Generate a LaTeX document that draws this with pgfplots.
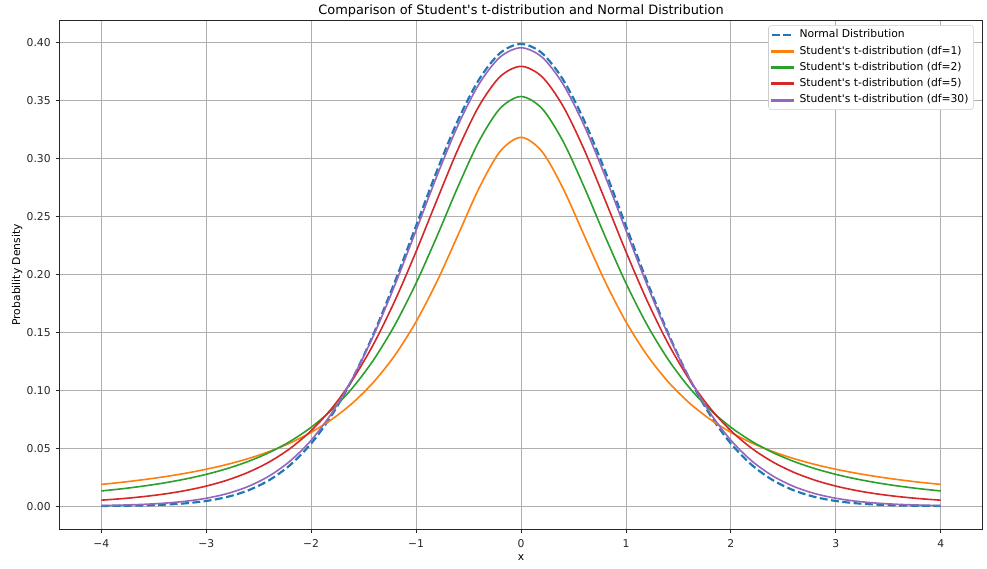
\documentclass[border=0pt]{standalone}
\usepackage{pgfplots}
\pgfplotsset{compat=1.18}
\usepackage{fontspec}
\setmainfont{DejaVu Sans}
\usetikzlibrary{calc}
\definecolor{c0}{HTML}{1F77B4}
\definecolor{c1}{HTML}{FF7F0E}
\definecolor{c2}{HTML}{2CA02C}
\definecolor{c3}{HTML}{D62728}
\definecolor{c4}{HTML}{9467BD}
\definecolor{gridc}{HTML}{B0B0B0}
\pgfplotsset{
  rectlegend/.style={legend image code/.code={\fill[##1, sharp corners] (0pt,-0.5pt) rectangle (15.8pt,0.5pt);}},
  dashlegend/.style={legend image code/.code={\draw[##1, sharp corners] (0pt,0pt) -- (15.8pt,0pt);}},
}
\begin{document}
\begin{tikzpicture}
\begin{axis}[
  name=ax,
  scale only axis,
  width=664.8pt, height=366pt,
  xmin=-4.4, xmax=4.4, ymin=-0.0198, ymax=0.419,
  xtick={-4,-3,-2,-1,0,1,2,3,4},
  xticklabels={−4,−3,−2,−1,0,1,2,3,4},
  ytick={0,0.05,0.10,0.15,0.20,0.25,0.30,0.35,0.40},
  yticklabel style={/pgf/number format/.cd,fixed,fixed zerofill,precision=2,assume math mode=true},
  scaled y ticks=false,
  tick label style={font=\fontsize{7.75}{9}\selectfont, color=black!85},
  xticklabel style={yshift=-1.2pt},
  xlabel={x}, ylabel={Probability Density},
  every axis x label/.style={at={(0.5,0)}, yshift=-22.3pt, anchor=base, font=\fontsize{7.75}{9}\selectfont},
  every axis y label/.style={at={(0,0.5)}, xshift=-28.3pt, rotate=90, anchor=base, font=\fontsize{7.75}{9}\selectfont},
  title={Comparison of Student\textquotesingle s t-distribution and Normal Distribution},
  every axis title/.style={at={(0.5,1)}, yshift=4.8pt, anchor=base, font=\fontsize{9.3}{11}\selectfont},
  grid=major,
  major grid style={gridc, line width=0.62pt},
  axis line style={line width=0.62pt, black!85},
  tick style={line width=0.62pt, black!85},
  tick align=outside, major tick length=2.7pt,
  xtick pos=bottom, ytick pos=left,
  legend cell align=left,
  legend style={font=\fontsize{7.75}{9}\selectfont, draw=black!20, fill=white, rounded corners=2pt, inner xsep=1.5pt, inner ysep=1pt, at={(1,1)}, xshift=-6.5pt, yshift=-3.3pt, anchor=north east, column sep=1.5pt, nodes={inner ysep=1.95pt, text height=5.9pt, text depth=1.9pt}},
]
\addplot[c0, line width=1.55pt, dash pattern=on 5.7pt off 2.5pt, smooth, dashlegend] coordinates {
(-4.0,0.000134)(-3.8,0.000292)(-3.6,0.000612)(-3.4,0.001232)(-3.2,0.002384)(-3.0,0.004432)
(-2.8,0.007915)(-2.6,0.013583)(-2.4,0.022395)(-2.2,0.035475)(-2.0,0.053991)(-1.8,0.078950)
(-1.6,0.110921)(-1.4,0.149727)(-1.2,0.194186)(-1.0,0.241971)(-0.8,0.289692)(-0.6,0.333225)
(-0.4,0.368270)(-0.2,0.391043)(0.0,0.398942)(0.2,0.391043)(0.4,0.368270)(0.6,0.333225)
(0.8,0.289692)(1.0,0.241971)(1.2,0.194186)(1.4,0.149727)(1.6,0.110921)(1.8,0.078950)
(2.0,0.053991)(2.2,0.035475)(2.4,0.022395)(2.6,0.013583)(2.8,0.007915)(3.0,0.004432)
(3.2,0.002384)(3.4,0.001232)(3.6,0.000612)(3.8,0.000292)(4.0,0.000134)};
\addlegendentry{Normal Distribution}
\addplot[c1, line width=1.16pt, smooth, rectlegend] coordinates {
(-4.0,0.018724)(-3.8,0.020616)(-3.6,0.022802)(-3.4,0.025343)(-3.2,0.028319)(-3.0,0.031831)
(-2.8,0.036008)(-2.6,0.041019)(-2.4,0.047087)(-2.2,0.054505)(-2.0,0.063662)(-1.8,0.075073)
(-1.6,0.089413)(-1.4,0.107537)(-1.2,0.130455)(-1.0,0.159155)(-0.8,0.194091)(-0.6,0.234051)
(-0.4,0.274405)(-0.2,0.306067)(0.0,0.318310)(0.2,0.306067)(0.4,0.274405)(0.6,0.234051)
(0.8,0.194091)(1.0,0.159155)(1.2,0.130455)(1.4,0.107537)(1.6,0.089413)(1.8,0.075073)
(2.0,0.063662)(2.2,0.054505)(2.4,0.047087)(2.6,0.041019)(2.8,0.036008)(3.0,0.031831)
(3.2,0.028319)(3.4,0.025343)(3.6,0.022802)(3.8,0.020616)(4.0,0.018724)};
\addlegendentry{Student\textquotesingle s t-distribution (df=1)}
\addplot[c2, line width=1.16pt, smooth, rectlegend] coordinates {
(-4.0,0.013095)(-3.8,0.015001)(-3.6,0.017281)(-3.4,0.020027)(-3.2,0.023352)(-3.0,0.027410)
(-2.8,0.032398)(-2.6,0.038569)(-2.4,0.046262)(-2.2,0.055899)(-2.0,0.068041)(-1.8,0.083364)
(-1.6,0.102695)(-1.4,0.126897)(-1.2,0.156735)(-1.0,0.192450)(-0.8,0.233127)(-0.6,0.275821)
(-0.4,0.315007)(-0.2,0.343206)(0.0,0.353553)(0.2,0.343206)(0.4,0.315007)(0.6,0.275821)
(0.8,0.233127)(1.0,0.192450)(1.2,0.156735)(1.4,0.126897)(1.6,0.102695)(1.8,0.083364)
(2.0,0.068041)(2.2,0.055899)(2.4,0.046262)(2.6,0.038569)(2.8,0.032398)(3.0,0.027410)
(3.2,0.023352)(3.4,0.020027)(3.6,0.017281)(3.8,0.015001)(4.0,0.013095)};
\addlegendentry{Student\textquotesingle s t-distribution (df=2)}
\addplot[c3, line width=1.16pt, smooth, rectlegend] coordinates {
(-4.0,0.005124)(-3.8,0.006458)(-3.6,0.008189)(-3.4,0.010446)(-3.2,0.013403)(-3.0,0.017292)
(-2.8,0.022415)(-2.6,0.029176)(-2.4,0.038091)(-2.2,0.049802)(-2.0,0.065091)(-1.8,0.084809)
(-1.6,0.109817)(-1.4,0.140737)(-1.2,0.177661)(-1.0,0.219680)(-0.8,0.264490)(-0.6,0.308138)
(-0.4,0.345378)(-0.2,0.370640)(0.0,0.379607)(0.2,0.370640)(0.4,0.345378)(0.6,0.308138)
(0.8,0.264490)(1.0,0.219680)(1.2,0.177661)(1.4,0.140737)(1.6,0.109817)(1.8,0.084809)
(2.0,0.065091)(2.2,0.049802)(2.4,0.038091)(2.6,0.029176)(2.8,0.022415)(3.0,0.017292)
(3.2,0.013403)(3.4,0.010446)(3.6,0.008189)(3.8,0.006458)(4.0,0.005124)};
\addlegendentry{Student\textquotesingle s t-distribution (df=5)}
\addplot[c4, line width=1.16pt, smooth, rectlegend] coordinates {
(-4.0,0.000525)(-3.8,0.000895)(-3.6,0.001515)(-3.4,0.002531)(-3.2,0.004173)(-3.0,0.006779)
(-2.8,0.010827)(-2.6,0.016961)(-2.4,0.026000)(-2.2,0.038947)(-2.0,0.056855)(-1.8,0.080709)
(-1.6,0.111189)(-1.4,0.148342)(-1.2,0.191287)(-1.0,0.237995)(-0.8,0.285231)(-0.6,0.328848)
(-0.4,0.364324)(-0.2,0.387546)(0.0,0.395632)(0.2,0.387546)(0.4,0.364324)(0.6,0.328848)
(0.8,0.285231)(1.0,0.237995)(1.2,0.191287)(1.4,0.148342)(1.6,0.111189)(1.8,0.080709)
(2.0,0.056855)(2.2,0.038947)(2.4,0.026000)(2.6,0.016961)(2.8,0.010827)(3.0,0.006779)
(3.2,0.004173)(3.4,0.002531)(3.6,0.001515)(3.8,0.000895)(4.0,0.000525)};
\addlegendentry{Student\textquotesingle s t-distribution (df=30)}
\end{axis}
\pgfresetboundingbox
\useasboundingbox ($(ax.south west)+(-42.7pt,-28.1pt)$) rectangle ($(ax.north east)+(3.1pt,14.9pt)$);
\end{tikzpicture}
\end{document}
